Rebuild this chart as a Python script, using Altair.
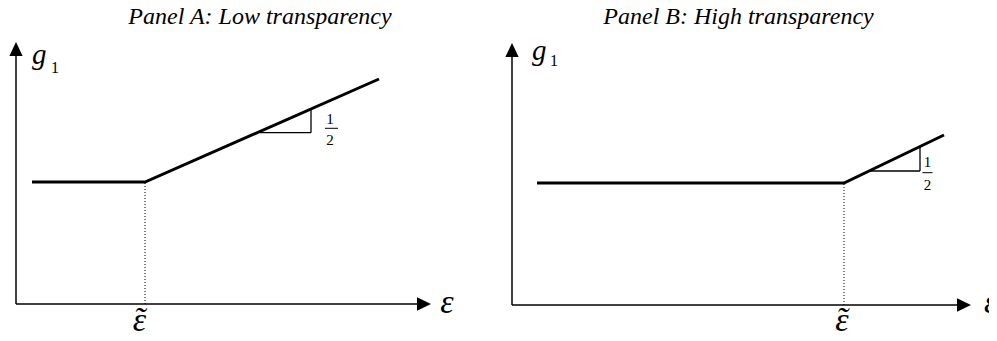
import altair as alt
import pandas as pd

FONT = "Liberation Serif"

# ---------- values (schematic units) ----------
titles = ["Panel A: Low transparency", "Panel B: High transparency"]

# plot domains for each panel
x_domain_A = [-0.8, 48.1]
y_domain_A = [-2.9, 29.6]
x_domain_B = [-1.5, 47.7]
y_domain_B = [-2.8, 29.7]

# g1 curve: flat part then slope 1/2 after the kink at eps-tilde
curve_x_A = [1.6, 12.9, 36.3]
curve_y_A = [12.2, 12.2, 22.5]
curve_x_B = [2.5, 33.2, 43.2]
curve_y_B = [12.2, 12.2, 17.0]

# axis lengths (up to the arrow-head centre)
y_axis_top_A, x_axis_end_A = 25.5, 40.8
y_axis_top_B, x_axis_end_B = 25.5, 45.2

# slope triangle: [x_left, x_right, y_bottom, y_top]
tri_A = [24.4, 29.5, 17.13, 19.5]
tri_B = [35.8, 40.8, 13.4, 15.83]

# fraction 1/2 : [x_centre, bar_x1, bar_x2, y_one, y_bar, y_two]
frac_A = [31.4, 30.9, 32.2, 17.97, 17.57, 15.9]
frac_B = [41.55, 41.05, 42.05, 13.83, 13.23, 11.5]

# label anchors
title_pos_A, title_pos_B = [24.4, 28.0], [22.65, 28.1]
g_pos_A, g_pos_B = [1.6, 24.0], [2.0, 24.55]
sub_pos_A, sub_pos_B = [3.5, 23.1], [3.8, 23.9]
eps_pos_A, eps_pos_B = [43.1, -0.9], [47.2, -0.8]
epst_pos_A, epst_pos_B = [12.35, -2.72], [33.0, -2.62]

PANEL_W_A, PANEL_W_B, PANEL_H = 489, 492, 325


def panel(title, xd, yd, cx, cy, ytop, xend, tri, frac,
          tpos, gpos, spos, epos, etpos, width, eps_align):
    X = lambda f="x": alt.X(f"{f}:Q", scale=alt.Scale(domain=xd, nice=False, zero=False), axis=None)
    Y = lambda f="y": alt.Y(f"{f}:Q", scale=alt.Scale(domain=yd, nice=False, zero=False), axis=None)
    X2 = lambda f="x2": alt.X2(f"{f}:Q")
    Y2 = lambda f="y2": alt.Y2(f"{f}:Q")

    axes = pd.DataFrame({"x": [0, 0], "x2": [0, xend], "y": [0, 0], "y2": [ytop, 0]})
    axes_l = alt.Chart(axes).mark_rule(color="black", strokeWidth=1.5).encode(
        x=X(), x2=X2(), y=Y(), y2=Y2())

    up = pd.DataFrame({"x": [0], "y": [ytop]})
    right = pd.DataFrame({"x": [xend], "y": [0]})
    up_l = alt.Chart(up).mark_point(shape="M0,-1L0.95,1L-0.95,1Z", size=196, filled=True,
                                    color="black", opacity=1, strokeWidth=0).encode(x=X(), y=Y())
    right_l = alt.Chart(right).mark_point(shape="M1,0L-1,0.95L-1,-0.95Z", size=196, filled=True,
                                          color="black", opacity=1, strokeWidth=0).encode(x=X(), y=Y())

    curve = pd.DataFrame({"x": cx, "y": cy, "o": list(range(len(cx)))})
    curve_l = alt.Chart(curve).mark_line(color="black", strokeWidth=3, strokeJoin="miter").encode(
        x=X(), y=Y(), order="o:Q")

    dot = pd.DataFrame({"x": [cx[1]], "y": [0], "y2": [cy[1]]})
    dot_l = alt.Chart(dot).mark_rule(color="black", strokeWidth=1, strokeDash=[1, 2]).encode(
        x=X(), y=Y(), y2=Y2())

    tri_df = pd.DataFrame({"x": [tri[0], tri[1]], "x2": [tri[1], tri[1]],
                           "y": [tri[2], tri[2]], "y2": [tri[2], tri[3]]})
    tri_l = alt.Chart(tri_df).mark_rule(color="black", strokeWidth=1.3).encode(
        x=X(), x2=X2(), y=Y(), y2=Y2())

    bar = pd.DataFrame({"x": [frac[1]], "x2": [frac[2]], "y": [frac[4]]})
    bar_l = alt.Chart(bar).mark_rule(color="black", strokeWidth=1).encode(x=X(), x2=X2(), y=Y())

    digits = pd.DataFrame({"x": [frac[0], frac[0]], "y": [frac[3], frac[5]], "t": ["1", "2"]})
    digits_l = alt.Chart(digits).mark_text(font=FONT, fontSize=15, baseline="alphabetic",
                                           align="center", color="black").encode(x=X(), y=Y(), text="t:N")

    tdf = pd.DataFrame({"x": [tpos[0]], "y": [tpos[1]], "t": [title]})
    t_l = alt.Chart(tdf).mark_text(font=FONT, fontSize=24, fontStyle="italic", baseline="alphabetic",
                                   align="center", color="black", clip=True).encode(x=X(), y=Y(), text="t:N")

    gdf = pd.DataFrame({"x": [gpos[0]], "y": [gpos[1]], "t": ["g"]})
    g_l = alt.Chart(gdf).mark_text(font=FONT, fontSize=29, fontStyle="italic", baseline="alphabetic",
                                   align="left", color="black").encode(x=X(), y=Y(), text="t:N")
    sdf = pd.DataFrame({"x": [spos[0]], "y": [spos[1]], "t": ["1"]})
    s_l = alt.Chart(sdf).mark_text(font=FONT, fontSize=16, baseline="alphabetic",
                                   align="left", color="black").encode(x=X(), y=Y(), text="t:N")

    edf = pd.DataFrame({"x": [epos[0]], "y": [epos[1]], "t": ["\u03b5"]})
    e_l = alt.Chart(edf).mark_text(font=FONT, fontSize=34, fontStyle="italic", baseline="alphabetic",
                                   align=eps_align, color="black", clip=True).encode(x=X(), y=Y(), text="t:N")
    etdf = pd.DataFrame({"x": [etpos[0], etpos[0]], "y": [etpos[1], etpos[1]],
                         "t": ["\u03b5", "\u02dc"]})
    et_l = alt.Chart(etdf).mark_text(font=FONT, fontSize=34, fontStyle="italic", baseline="alphabetic",
                                     align="center", color="black", clip=True).encode(x=X(), y=Y(), text="t:N")

    return alt.layer(axes_l, up_l, right_l, dot_l, curve_l, tri_l, bar_l, digits_l,
                     t_l, g_l, s_l, e_l, et_l).properties(width=width, height=PANEL_H)


pA = panel(titles[0], x_domain_A, y_domain_A, curve_x_A, curve_y_A, y_axis_top_A, x_axis_end_A,
           tri_A, frac_A, title_pos_A, g_pos_A, sub_pos_A, eps_pos_A, epst_pos_A, PANEL_W_A, "center")
pB = panel(titles[1], x_domain_B, y_domain_B, curve_x_B, curve_y_B, y_axis_top_B, x_axis_end_B,
           tri_B, frac_B, title_pos_B, g_pos_B, sub_pos_B, eps_pos_B, epst_pos_B, PANEL_W_B, "left")

chart = alt.hconcat(pA, pB, spacing=0).properties(padding=0).configure_view(stroke=None)
chart.save("out.html", embed_options={"renderer": "svg", "actions": False})
